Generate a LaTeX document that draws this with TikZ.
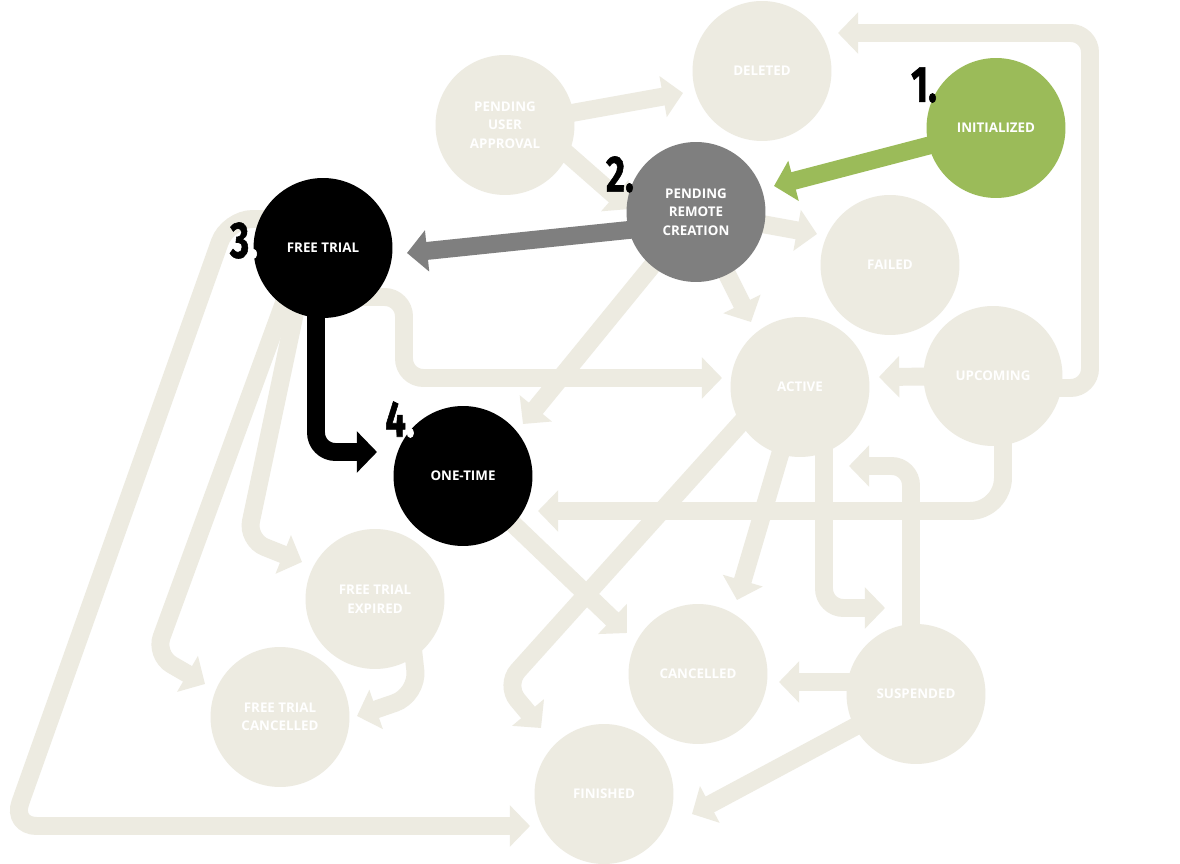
\documentclass[tikz,border=0pt]{standalone}
\usepackage{fontspec}
\setmainfont{Open Sans}
\newfontfamily\numfont{Fira Sans}[BoldFeatures={FakeBold=1.3}]
\usetikzlibrary{arrows.meta,shapes.geometric}
\definecolor{beige}{RGB}{237,235,225}
\definecolor{igreen}{RGB}{155,187,89}
\definecolor{igray}{RGB}{127,127,127}
\pgfdeclarelayer{bg}
\pgfsetlayers{bg,main}
\begin{document}
\begin{tikzpicture}[x=0.02cm,y=-0.02cm,
  state/.style={ellipse, minimum width=2.78cm, minimum height=2.8cm, inner sep=0pt,
    text=white, align=center, font=\bfseries\fontsize{7.6}{10.5}\selectfont},
  light/.style={state, fill=beige},
  flow/.style={line width=10.2pt, draw=beige, rounded corners=11pt,
    -{Triangle[length=11.5pt,width=23pt]}},
  num/.style={inner sep=0pt, font=\numfont\bfseries\fontsize{29}{29}\selectfont}]
\useasboundingbox (0,0) rectangle (1180,864);

% states
\node[light] (pua) at (505,125) {PENDING\\USER\\APPROVAL};
\node[light] (del) at (762,71) {DELETED};
\node[state, fill=igreen] (init) at (996,128) {INITIALIZED};
\node[state, fill=igray] (prc) at (696,212) {PENDING\\REMOTE\\CREATION};
\node[state, fill=black] (ft) at (323,248) {FREE TRIAL};
\node[light] (fail) at (890,265) {FAILED};
\node[light] (act) at (800,387) {ACTIVE};
\node[light] (up) at (993,376) {UPCOMING};
\node[state, fill=black] (one) at (463,476) {ONE-TIME};
\node[light] (fte) at (375,599) {FREE TRIAL\\EXPIRED};
\node[light] (ftc) at (280,717) {FREE TRIAL\\CANCELLED};
\node[light] (can) at (698,674) {CANCELLED};
\node[light] (sus) at (916,694) {SUSPENDED};
\node[light] (fin) at (604,794) {FINISHED};

% step numbers
\node[num] (n1) at (924,85) {\scalebox{0.72}[1]{1.}};
\node[num] (n2) at (620,174.5) {\scalebox{0.72}[1]{2.}};
\node[num] (n3) at (244,240.5) {\scalebox{0.72}[1]{3\textcolor{white}{.}}};
\node[num] (n4) at (400,419.5) {\scalebox{0.72}[1]{4\textcolor{white}{.}}};

% free ends
\coordinate (tDel) at (683,93);
\coordinate (tPrc) at (630,209);
\coordinate (tInit) at (774,186);
\coordinate (tFt) at (407,253);
\coordinate (tFail) at (817,234);
\coordinate (tActA) at (751,322);
\coordinate (tOneA) at (523,424);
\coordinate (tActB) at (722,378);
\coordinate (tOneB) at (377,452);
\coordinate (tFte) at (302,562);
\coordinate (tFtc) at (205,684);
\coordinate (tFin) at (530,826);
\coordinate (tFtc2) at (357,716);
\coordinate (tCan) at (627,633);
\coordinate (tFin2) at (541,728);
\coordinate (tCan2) at (737,600);
\coordinate (tSus) at (885,608);
\coordinate (tActC) at (849,466);
\coordinate (tActD) at (879,377);
\coordinate (tOneC) at (538,511);
\coordinate (tDel2) at (838,33);
\coordinate (tCan3) at (779,682);
\coordinate (tFin3) at (692,814);

\begin{pgfonlayer}{bg}
\fill[white] (0,0) rectangle (1180,864);
\draw[flow] (pua.center) -- (tDel);
\draw[flow] ([shift={(35,5)}]pua.center) -- (tPrc);
\draw[flow] (prc.center) -- (tFail);
\draw[flow] (prc.center) -- (tActA);
\draw[flow] (prc.center) -- (tOneA);
\draw[flow] ([shift={(20,49)}]ft.center) -- (404,297) -- (404,378) -- (tActB);
\draw[flow] ([shift={(-19,22)}]ft.center) -- (247,540) -- (tFte);
\draw[flow] ([shift={(-27,22)}]ft.center) -- (155,655) -- (tFtc);
\draw[flow, rounded corners=14pt] ([shift={(-40,-29)}]ft.center) -- (228,219) -- (12,826) -- (tFin);
\draw[flow, rounded corners=14pt] ([shift={(37,41)}]fte.center) -- (418,695) -- (tFtc2);
\draw[flow] (one.center) -- (tCan);
\draw[flow] ([shift={(-43,18)}]act.center) -- (505,685) -- (tFin2);
\draw[flow] (act.center) -- (tCan2);
\draw[flow] ([shift={(24,0)}]act.center) -- (824,608) -- (tSus);
\draw[flow] ([shift={(-5,0)}]sus.center) -- (911,466) -- (tActC);
\draw[flow] (up.center) -- (tActD);
\draw[flow, rounded corners=19pt] ([shift={(10,0)}]up.center) -- (1003,511) -- (tOneC);
\draw[flow] ([shift={(0,12)}]up.center) -- (1090,388) -- (1090,33) -- (tDel2);
\draw[flow] ([shift={(0,-12)}]sus.center) -- (tCan3);
\draw[flow] (sus.center) -- (tFin3);
% highlighted path
\draw[flow, draw=igreen] (init.center) -- (tInit);
\draw[flow, draw=igray] ([shift={(0,11)}]prc.center) -- (tFt);
\draw[flow, draw=black] ([shift={(-7,0)}]ft.center) -- (316,452) -- (tOneB);
\end{pgfonlayer}
\end{tikzpicture}
\end{document}
